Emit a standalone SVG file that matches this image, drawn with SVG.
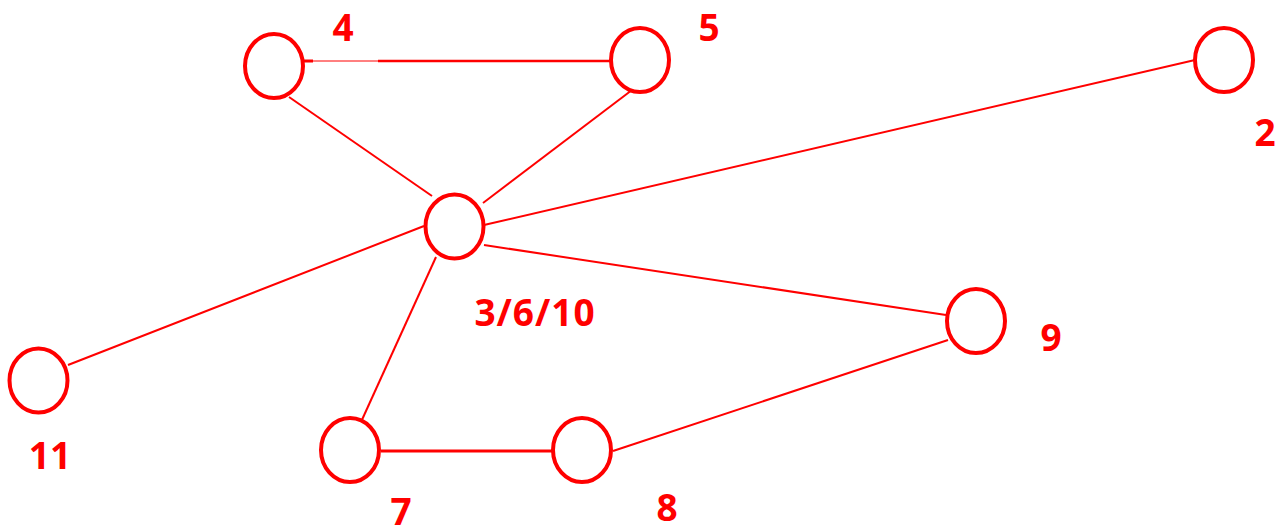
<svg xmlns="http://www.w3.org/2000/svg" width="1278" height="531" viewBox="0 0 1278 531">
<style>
.node{fill:#fff;stroke:#f00;stroke-width:4}
.edge{stroke:#f00;stroke-width:2;fill:none}
.lbl{fill:#f00;font-family:"Open Sans","Liberation Sans",sans-serif;font-weight:bold;font-size:37px;text-anchor:middle}
</style>
<rect width="1278" height="531" fill="#fff"/>
<g id="connectors">
<line class="edge" x1="303" y1="61" x2="313" y2="61" style="stroke-width:3"/>
<line class="edge" x1="313" y1="61" x2="378" y2="61" style="stroke-width:1"/>
<line class="edge" x1="378" y1="61" x2="612" y2="61" style="stroke-width:2.5"/>
<line class="edge" x1="289" y1="97" x2="432" y2="196"/>
<line class="edge" x1="632" y1="90" x2="483" y2="203"/>
<line class="edge" x1="1195" y1="60" x2="484" y2="225"/>
<line class="edge" x1="68" y1="365" x2="424" y2="226"/>
<line class="edge" x1="484" y1="245" x2="946" y2="315"/>
<line class="edge" x1="436" y1="257" x2="361" y2="422"/>
<line class="edge" x1="381" y1="451" x2="552" y2="451" style="stroke-width:3"/>
<line class="edge" x1="613" y1="451" x2="948" y2="340"/>
</g>
<g id="n4"><ellipse class="node" cx="274" cy="66" rx="29" ry="32"/><text class="lbl" x="343" y="41">4</text></g>
<g id="n5"><ellipse class="node" cx="640" cy="60" rx="29" ry="32"/><text class="lbl" x="709" y="41">5</text></g>
<g id="n2"><ellipse class="node" cx="1224" cy="60" rx="29" ry="32"/><text class="lbl" x="1265" y="146">2</text></g>
<g id="n3"><ellipse class="node" cx="454.5" cy="226.5" rx="29" ry="32"/><text class="lbl" x="535" y="326" letter-spacing="1">3/6/10</text></g>
<g id="n9"><ellipse class="node" cx="976" cy="321" rx="29" ry="32"/><text class="lbl" x="1051" y="351">9</text></g>
<g id="n11"><ellipse class="node" cx="38.5" cy="380.5" rx="29" ry="32"/><text class="lbl" x="50" y="469">11</text></g>
<g id="n7"><ellipse class="node" cx="350" cy="450" rx="29" ry="32"/><text class="lbl" x="401" y="525">7</text></g>
<g id="n8"><ellipse class="node" cx="582" cy="450" rx="29" ry="32"/><text class="lbl" x="667" y="521">8</text></g>
</svg>
